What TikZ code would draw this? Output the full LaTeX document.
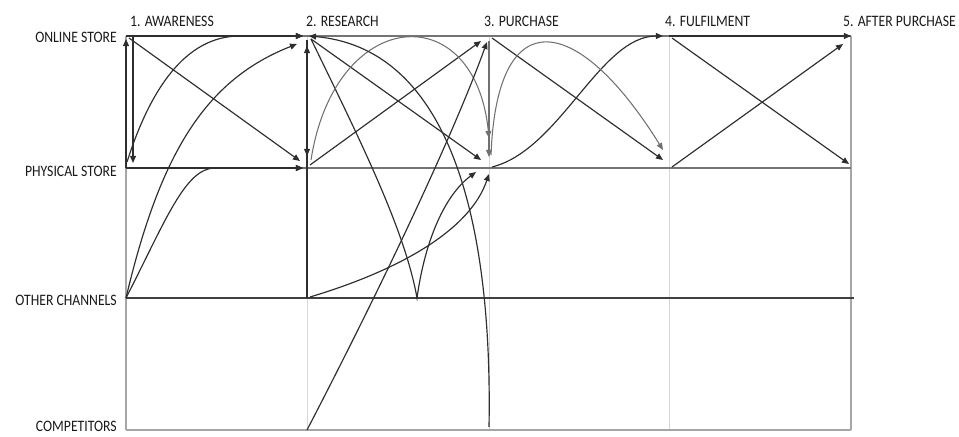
\documentclass[tikz,border=0pt]{standalone}
\usepackage{fontspec}
\setmainfont{Carlito}
\newfontfamily\narrowlbl[FakeStretch=0.86]{Carlito}
\usepackage{tikz}
\usetikzlibrary{calc,arrows.meta}
\definecolor{pathdark}{HTML}{2E2E2E}
\definecolor{pathgray}{HTML}{707070}
\definecolor{gridlight}{HTML}{D6D6D6}
\definecolor{gridmid}{HTML}{A6A6A6}
\definecolor{rowdark}{HTML}{404040}
\definecolor{labelink}{HTML}{1A1A1A}

\begin{document}
\begin{tikzpicture}[
    x=0.3mm, y=0.3mm,
    every node/.style={font=\narrowlbl\fontsize{13.6}{14}\selectfont, text=labelink, inner sep=0pt},
    stagelbl/.style={anchor=base west},
    rowlbl/.style={anchor=base east},
    jpath/.style={draw=pathdark, line width=1pt, -{Triangle[length=6pt,width=5pt]}},
    jsoft/.style={draw=pathgray, line width=0.9pt, -{Triangle[length=6pt,width=5pt]}},
]

\useasboundingbox (0,0) rectangle (959,436);

% ── Grid points: stage x channel ────────────────────────────────
\foreach \c/\x in {1/126,2/307,3/489,4/669,5/851}{
  \foreach \r/\y in {on/400,ph/268,ot/138,co/6}{
    \coordinate (\r\c) at (\x,\y);
  }
}
\coordinate (dip) at (417,138);

% ── Grid lines ──────────────────────────────────────────────────
\foreach \c in {2,3,4}{
  \draw[gridlight, line width=0.8pt] (on\c) -- (co\c);
}
\draw[gridmid, line width=0.9pt] (on1) -- (co1);
\draw[gridmid, line width=0.9pt] (on5) -- (co5);
\draw[gridmid!70!black, line width=1.1pt] (on1) -- (on5);
\draw[gridmid!70!black, line width=0.9pt] (ph1) -- (ph5);
\draw[rowdark, line width=2pt] (ot1) -- ($(ot5)+(3,0)$);
\draw[gridmid, line width=1pt] (co1) -- (co5);

% ── Labels ──────────────────────────────────────────────────────
\node[stagelbl] (st1) at (130,409) {1. AWARENESS};
\node[stagelbl] (st2) at (306,409) {2. RESEARCH};
\node[stagelbl] (st3) at (484,409) {3. PURCHASE};
\node[stagelbl] (st4) at (665,409) {4. FULFILMENT};
\node[stagelbl] (st5) at (843,409) {5. AFTER PURCHASE};

\node[rowlbl] (ch1) at (117,393) {ONLINE STORE};
\node[rowlbl] (ch2) at (117,259) {PHYSICAL STORE};
\node[rowlbl] (ch3) at (117,130) {OTHER CHANNELS};
\node[rowlbl] (ch4) at (117,5) {COMPETITORS};

% ── 1. Awareness ────────────────────────────────────────────────
\draw[jpath] ($(on1)+(7,-1)$) -- ($(ph1)+(7,5)$);
\draw[jpath] (ph1) -- ($(on1)+(0,-3)$);
\draw[jpath] ($(on1)+(3,-2)$) -- ($(ph2)+(-7,7)$);
\draw[jpath] (on1) -- ($(on2)+(-4,0)$);
\draw[jpath] (ph1) -- ($(ph2)+(-4,0)$);
\draw[jpath] ($(ph1)+(1,6)$) .. controls (150,346) and (185,400) .. (240,400) -- ($(on2)+(-4,0)$);
\draw[jpath] (ot1) .. controls (160,282) and (205,356) .. ($(on2)+(-10,-8)$);
\draw[jpath] (ot1) .. controls (165,214) and (185,268) .. (215,268) -- ($(ph2)+(-4,0)$);

% ── 2. Research ─────────────────────────────────────────────────
\draw[jpath] (ot2) -- ($(on2)+(0,-10)$);
\draw[jpath] ($(on2)+(0,-4)$) -- ($(ph2)+(0,12)$);
\draw[jpath] ($(on2)+(4,-3)$) -- ($(ph3)+(-8,8)$);
\draw[jpath] ($(ph2)+(3,3)$) -- ($(on3)+(-8,-5)$);
\draw[jpath] ($(on2)+(4,-3)$) .. controls (360,296) and (405,206) .. (dip)
  .. controls (425,196) and (445,241) .. ($(ph3)+(-13,-4)$);
\draw[jpath] ($(ot2)+(3,1)$) .. controls (400,166) and (470,206) .. ($(ph3)+(0,-6)$);
\draw[jsoft] ($(ph2)+(4,8)$) .. controls (335,430) and (475,440) .. ($(ph3)+(0,30)$);
\draw[jsoft] ($(on3)+(0,-5)$) -- ($(ph3)+(0,11)$);
\draw[jpath] (co2) .. controls (390,166) and (455,306) .. ($(on3)+(-2,-6)$);
\draw[jpath] ($(co3)+(0,3)$) .. controls (492,176) and (465,386) .. ($(on2)+(2,0)$);

% ── 3. Purchase ─────────────────────────────────────────────────
\draw[jpath] ($(on3)+(3,-2)$) -- ($(ph4)+(-6,8)$);
\draw[jpath] ($(ph3)+(3,1)$) .. controls (560,286) and (600,400) .. ($(on4)+(-6,0)$);
\draw[jsoft] ($(ph3)+(2,13)$) .. controls (497,440) and (580,420) .. ($(ph4)+(-6,18)$);

% ── 4. Fulfilment ───────────────────────────────────────────────
\draw[jpath] (on4) -- (on5);
\draw[jpath] ($(on4)+(3,-2)$) -- ($(ph5)+(-2,4)$);
\draw[jpath] ($(ph4)+(3,1)$) -- ($(on5)+(-8,-8)$);

\end{tikzpicture}
\end{document}
